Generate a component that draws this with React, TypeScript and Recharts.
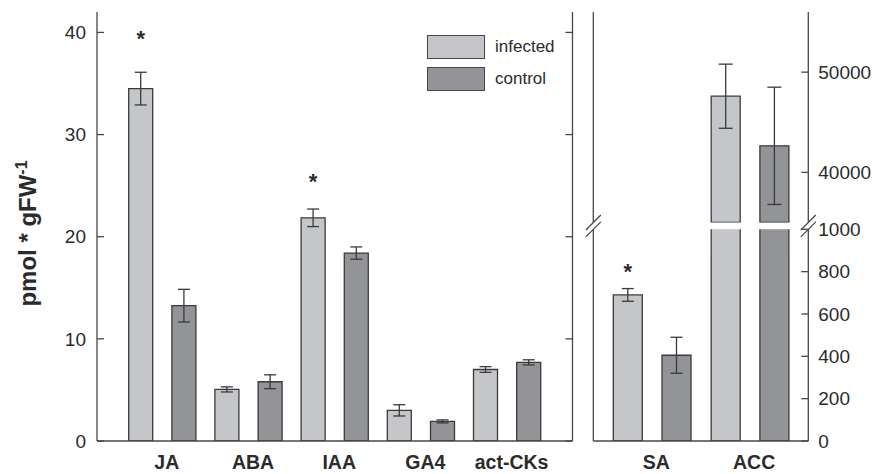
import React from 'react';
import { ComposedChart, Bar, XAxis, YAxis, ErrorBar, LabelList, Legend } from 'recharts';

// ---------- data ----------
const leftCategories = ['JA', 'ABA', 'IAA', 'GA4', 'act-CKs'];
const leftInfected = [34.5, 5.05, 21.85, 3.0, 7.0];
const leftInfectedErr = [1.6, 0.25, 0.86, 0.55, 0.28];
const leftControl = [13.25, 5.8, 18.4, 1.92, 7.7];
const leftControlErr = [1.6, 0.68, 0.6, 0.15, 0.25];
const leftStars = [39.6, null, 25.6, null, null];

const rightCategories = ['SA', 'ACC'];
const rightInfected = [690, 47600];
const rightInfectedErr = [30, 3200];
const rightControl = [405, 42650];
const rightControlErr = [85, 5850];
const rightStars = [810, null];

const seriesNames = ['infected', 'control'];
const leftTicks = [0, 10, 20, 30, 40];
const rightLowTicks = [0, 200, 400, 600, 800, 1000];
const rightHighTicks = [40000, 50000];
const leftDomain = [0, 42];
const rightLowDomain = [0, 1000];
const rightHighDomain = [35000, 56000];

// ---------- styles ----------
const FILL_INF = '#c5c6ca';
const FILL_CTL = '#939498';
const BAR_STROKE = '#3a3a3a';
const FRAME = '#474747';
const TEXT = '#2b2b2b';
const FONT = '"Liberation Sans", Arial, Helvetica, sans-serif';

const leftData = leftCategories.map((cat, i) => ({
  cat,
  infected: leftInfected[i],
  infectedErr: leftInfectedErr[i],
  control: leftControl[i],
  controlErr: leftControlErr[i],
  star: leftStars[i],
}));

const rightLowData = rightCategories.map((cat, i) => ({
  cat,
  infected: rightInfected[i],
  infectedErr: rightInfected[i] <= rightLowDomain[1] ? rightInfectedErr[i] : null,
  control: rightControl[i],
  controlErr: rightControl[i] <= rightLowDomain[1] ? rightControlErr[i] : null,
  star: rightStars[i],
}));

const rightHighData = rightCategories.map((cat, i) => ({
  cat,
  infected: rightInfected[i] >= rightHighDomain[0] ? rightInfected[i] : null,
  infectedErr: rightInfected[i] >= rightHighDomain[0] ? rightInfectedErr[i] : null,
  control: rightControl[i] >= rightHighDomain[0] ? rightControl[i] : null,
  controlErr: rightControl[i] >= rightHighDomain[0] ? rightControlErr[i] : null,
}));

const makeStar = (values: number[]) => (props: any) => {
  const { index, value } = props;
  if (value === null || value === undefined) return null;
  const vb = props.viewBox && props.viewBox.width !== undefined ? props.viewBox : props;
  const { x, y, width, height } = vb;
  const v = values[index];
  if (!v || !height) return null;
  const base = y + height;
  const ppu = height / v;
  const cy = base - value * ppu;
  return (
    <text x={x + width / 2} y={cy + 9} textAnchor="middle" fontSize={22} fontWeight={700} fill={TEXT} fontFamily={FONT}>
      *
    </text>
  );
};

const YLabel = (props: any) => {
  const vb = props.viewBox && props.viewBox.height !== undefined ? props.viewBox : { x: 0, y: 12, width: 97, height: 429 };
  const cx = vb.x + 36;
  const cy = vb.y + vb.height / 2 + 7;
  return (
    <text
      x={cx}
      y={cy}
      transform={`rotate(-90, ${cx}, ${cy})`}
      textAnchor="middle"
      fontSize={24}
      fontWeight={700}
      fill={TEXT}
      fontFamily={FONT}
    >
      pmol * gFW
      <tspan dy={-9} fontSize={16}>-1</tspan>
    </text>
  );
};

const renderLegend = (props: any) => {
  const payload = [...(props.payload || [])].sort(
    (a: any, b: any) => seriesNames.indexOf(a.value) - seriesNames.indexOf(b.value)
  );
  return (
    <div style={{ fontFamily: FONT }}>
      {payload.map((p: any) => (
        <div key={p.value} style={{ display: 'flex', alignItems: 'center', height: 24, marginBottom: 8 }}>
          <span
            style={{
              display: 'inline-block',
              width: 58,
              height: 24,
              background: p.color,
              border: `1.3px solid ${FRAME}`,
              boxSizing: 'border-box',
            }}
          />
          <span style={{ marginLeft: 10, fontSize: 17, color: TEXT }}>{p.value}</span>
        </div>
      ))}
    </div>
  );
};

const axisLine = { stroke: FRAME, strokeWidth: 1.3 };
const tickLine = { stroke: FRAME, strokeWidth: 1.3 };
const catTick = { fontSize: 19.5, fontWeight: 700, fill: TEXT, dx: 5 };
const numTick = { fontSize: 19, fill: TEXT };

const LeftStar = makeStar(leftInfected);
const RightStar = makeStar(rightInfected);

export default function App() {
  const leftPad = { left: 21.7, right: 22.8 };
  const rightPad = { left: 10, right: 9.2 };
  return (
    <div style={{ position: 'absolute', left: 0, top: 0, width: 876, height: 474, fontFamily: FONT, background: '#fff' }}>
      {/* left panel */}
      <div style={{ position: 'absolute', left: 0, top: 0 }}>
        <ComposedChart
          width={600}
          height={474}
          data={leftData}
          margin={{ top: 12, right: 26.5, bottom: 0, left: 0 }}
          barGap={19.2}
          barSize={24}
        >
          <XAxis
            dataKey="cat"
            type="category"
            padding={leftPad}
            height={33}
            tickLine={false}
            tickSize={0}
            tickMargin={14}
            interval={0}
            axisLine={axisLine}
            tick={catTick}
          />
          <XAxis
            xAxisId="top"
            dataKey="cat"
            orientation="top"
            padding={leftPad}
            height={0}
            tick={false}
            tickLine={false}
            axisLine={axisLine}
          />
          <YAxis
            domain={leftDomain}
            ticks={leftTicks}
            allowDataOverflow
            width={97}
            tickSize={-7}
            tickMargin={18}
            axisLine={axisLine}
            tickLine={tickLine}
            tick={numTick}
            label={<YLabel />}
          />
          <YAxis
            yAxisId="mirror"
            orientation="right"
            domain={leftDomain}
            ticks={leftTicks}
            allowDataOverflow
            width={1}
            tickSize={-7}
            tickFormatter={() => ''}
            axisLine={axisLine}
            tickLine={tickLine}
          />
          <Bar dataKey="infected" name={seriesNames[0]} fill={FILL_INF} stroke={BAR_STROKE} strokeWidth={1.3} isAnimationActive={false}>
            <ErrorBar dataKey="infectedErr" width={6} stroke={BAR_STROKE} strokeWidth={1.3} />
            <LabelList dataKey="star" content={LeftStar} />
          </Bar>
          <Bar dataKey="control" name={seriesNames[1]} fill={FILL_CTL} stroke={BAR_STROKE} strokeWidth={1.3} isAnimationActive={false}>
            <ErrorBar dataKey="controlErr" width={6} stroke={BAR_STROKE} strokeWidth={1.3} />
          </Bar>
          <Legend
            layout="vertical"
            align="center"
            verticalAlign="middle"
            wrapperStyle={{ left: 427, top: 35, width: 140, height: 60 }}
            content={renderLegend}
          />
        </ComposedChart>
      </div>

      {/* right panel, upper segment */}
      <div style={{ position: 'absolute', left: 575, top: 0 }}>
        <ComposedChart
          width={301}
          height={474}
          data={rightHighData}
          margin={{ top: 12, right: 0, bottom: 251.5, left: 17.3 }}
          barGap={19.7}
          barSize={29}
        >
          <XAxis
            dataKey="cat"
            orientation="top"
            padding={rightPad}
            height={0}
            tick={false}
            tickLine={false}
            axisLine={axisLine}
          />
          <YAxis
            yAxisId="r"
            orientation="right"
            domain={rightHighDomain}
            ticks={rightHighTicks}
            allowDataOverflow
            width={67.7}
            tickSize={-7}
            tickMargin={17}
            axisLine={axisLine}
            tickLine={tickLine}
            tick={numTick}
          />
          <YAxis
            yAxisId="l"
            orientation="left"
            domain={rightHighDomain}
            ticks={rightHighTicks}
            allowDataOverflow
            width={1}
            tickFormatter={() => ''}
            tickLine={false}
            axisLine={axisLine}
          />
          <Bar yAxisId="r" dataKey="infected" fill={FILL_INF} stroke={BAR_STROKE} strokeWidth={1.3} isAnimationActive={false}>
            <ErrorBar dataKey="infectedErr" width={7} stroke={BAR_STROKE} strokeWidth={1.3} />
          </Bar>
          <Bar yAxisId="r" dataKey="control" fill={FILL_CTL} stroke={BAR_STROKE} strokeWidth={1.3} isAnimationActive={false}>
            <ErrorBar dataKey="controlErr" width={7} stroke={BAR_STROKE} strokeWidth={1.3} />
          </Bar>
        </ComposedChart>
      </div>

      {/* right panel, lower segment */}
      <div style={{ position: 'absolute', left: 575, top: 0 }}>
        <ComposedChart
          width={301}
          height={474}
          data={rightLowData}
          margin={{ top: 229.3, right: 0, bottom: 0, left: 17.3 }}
          barGap={19.7}
          barSize={29}
        >
          <XAxis
            dataKey="cat"
            padding={rightPad}
            height={33}
            tickLine={false}
            tickSize={0}
            tickMargin={14}
            interval={0}
            axisLine={axisLine}
            tick={{ ...catTick, dx: 4 }}
          />
          <YAxis
            yAxisId="r"
            orientation="right"
            domain={rightLowDomain}
            ticks={rightLowTicks}
            allowDataOverflow
            width={67.7}
            tickSize={-7}
            tickMargin={17}
            axisLine={axisLine}
            tickLine={tickLine}
            tick={numTick}
          />
          <YAxis
            yAxisId="l"
            orientation="left"
            domain={rightLowDomain}
            ticks={rightLowTicks}
            allowDataOverflow
            width={1}
            tickFormatter={() => ''}
            tickLine={false}
            axisLine={axisLine}
          />
          <Bar yAxisId="r" dataKey="infected" fill={FILL_INF} stroke={BAR_STROKE} strokeWidth={1.3} isAnimationActive={false}>
            <ErrorBar dataKey="infectedErr" width={6} stroke={BAR_STROKE} strokeWidth={1.3} />
            <LabelList dataKey="star" content={RightStar} />
          </Bar>
          <Bar yAxisId="r" dataKey="control" fill={FILL_CTL} stroke={BAR_STROKE} strokeWidth={1.3} isAnimationActive={false}>
            <ErrorBar dataKey="controlErr" width={6} stroke={BAR_STROKE} strokeWidth={1.3} />
          </Bar>
        </ComposedChart>
      </div>

      {/* axis-break marks */}
      <svg width={876} height={474} style={{ position: 'absolute', left: 0, top: 0, pointerEvents: 'none' }}>
        {[593.3, 808.3].map((bx) =>
          [222.5, 229.3].map((by) => (
            <line key={`${bx}-${by}`} x1={bx - 7.5} y1={by + 7.5} x2={bx + 7.5} y2={by - 7.5} stroke={FRAME} strokeWidth={1.2} />
          ))
        )}
      </svg>
    </div>
  );
}
